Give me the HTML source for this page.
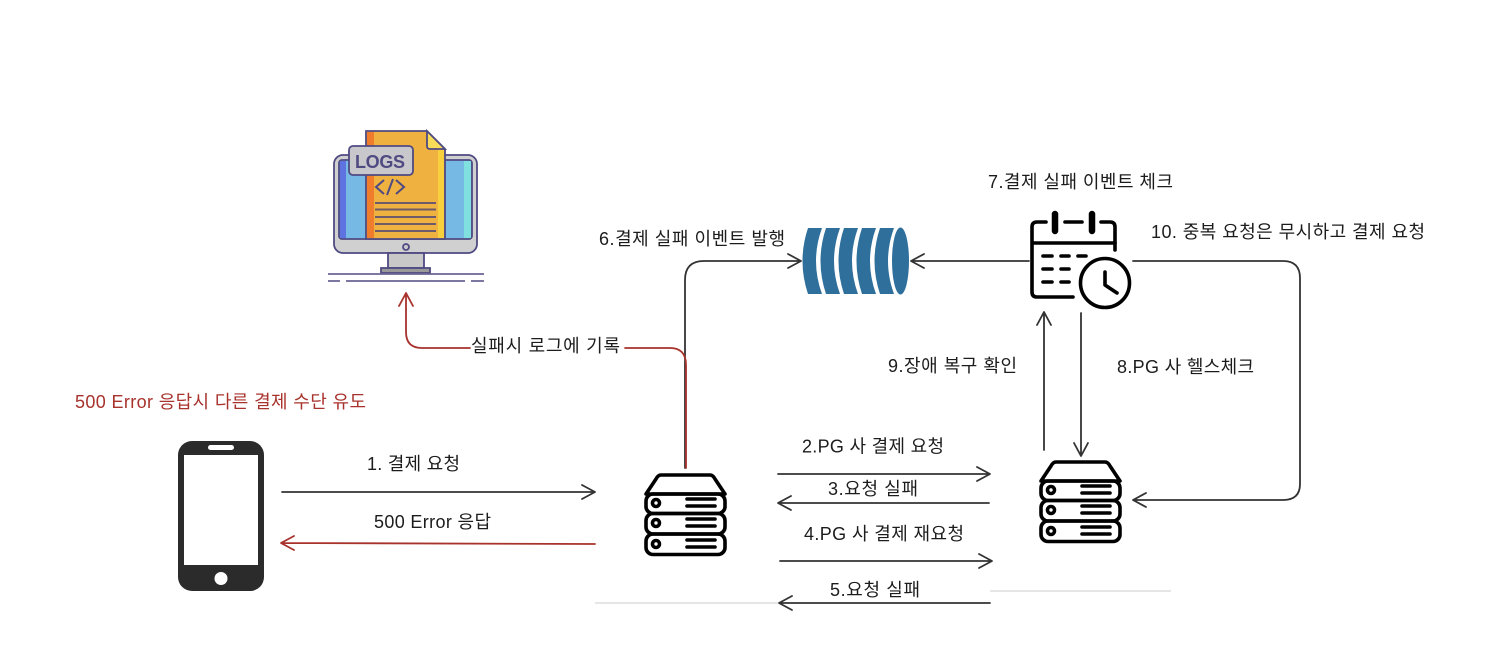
<!DOCTYPE html>
<html><head><meta charset="utf-8"><style>
html,body{margin:0;padding:0;background:#fff;width:1502px;height:668px;overflow:hidden}
svg{display:block}
text{font-family:"Liberation Sans","Noto Sans CJK KR","NanumGothic",sans-serif;font-size:18px;fill:#1c1c1c}
.l{fill:none;stroke:#333;stroke-width:1.8;stroke-linecap:round;stroke-linejoin:round}
.r{fill:none;stroke:#a8322c;stroke-width:1.8;stroke-linecap:round;stroke-linejoin:round}
.k{fill:none;stroke:#000;stroke-width:3.6;stroke-linecap:round;stroke-linejoin:round}
.p{stroke:#4f4a82;stroke-width:1.8}
</style></head><body>
<svg width="1502" height="668" viewBox="0 0 1502 668" xmlns="http://www.w3.org/2000/svg">
<defs>
<g id="srv">
<path class="k" d="M661 475H710Q713 475 715 479L725 494H646L656 479Q658 475 661 475Z"/>
<rect class="k" x="646" y="494" width="79" height="19.5" rx="7"/>
<rect class="k" x="646" y="513.5" width="79" height="20.5" rx="7"/>
<rect class="k" x="646" y="534" width="79" height="20.5" rx="7"/>
<circle class="k" cx="656" cy="503" r="3.5"/><circle class="k" cx="656" cy="523" r="3.5"/><circle class="k" cx="656" cy="544" r="3.5"/>
<path class="k" d="M687 499H715M687 506H715M687 519H715M687 526H715M687 540H715M687 547H715"/>
</g>
</defs>

<!-- logs monitor -->
<rect class="p" x="334" y="155" width="143" height="98" rx="9" fill="#d0d0d0"/>
<rect class="p" x="339" y="160" width="133" height="79" rx="3" fill="#75b9e4"/>
<rect x="340" y="161" width="6" height="77" fill="#5f73e0"/>
<rect x="464" y="161" width="7" height="77" fill="#80e0e0"/>
<path class="p" fill="#efb13f" d="M366 131H427L445 149V239H366Z"/>
<rect x="367" y="132" width="7" height="106" fill="#ef7d2c"/>
<rect x="438" y="150" width="6" height="88" fill="#f8cf3c"/>
<path class="p" fill="#f7dc5a" d="M427 131V146Q427 149 430 149H445Z"/>
<rect class="p" x="349" y="146" width="64" height="29" rx="4" fill="#c8c8cc"/>
<text x="355" y="168" style="font-size:18px;font-weight:bold;fill:#4f4a82" textLength="50">LOGS</text>
<path d="M384 180L376 187L384 194M396 180L404 187L396 194M393 179L387 195" fill="none" stroke="#4f4a82" stroke-width="2"/>
<path d="M375 203H436M375 209.500H436M375 217H436M375 224H436M375 231H436" stroke="#6d5a6a" stroke-width="2"/>
<circle class="p" cx="406" cy="247" r="3" fill="#c8c8cc"/>
<rect class="p" x="388" y="253" width="36" height="15" fill="#c8c8c8"/>
<rect class="p" x="381" y="268" width="49" height="5" fill="#999"/>
<path d="M328 274H484M328 281H340M346 281H465M471 281H484" stroke="#6a6594" stroke-width="1.8" fill="none"/>

<!-- queue -->
<g fill="#2e6f9b">
<path d="M808 228H822Q810 261 822 294H808Q797 261 808 228Z"/>
<path d="M826 228H840Q828 261 840 294H826Q815 261 826 228Z"/>
<path d="M844 228H858Q846 261 858 294H844Q833 261 844 228Z"/>
<path d="M862 228H876Q864 261 876 294H862Q851 261 862 228Z"/>
<path d="M880 228H894Q882 261 894 294H880Q869 261 880 228Z"/>
<ellipse cx="900.500" cy="261" rx="8.500" ry="33.500"/>
</g>

<!-- calendar -->
<path class="k" d="M1046 222H1037Q1032 222 1032 227V292Q1032 297 1037 297H1073"/>
<path class="k" d="M1101 222H1110Q1115 222 1115 227V250"/>
<path class="k" d="M1065 222H1082M1033 243H1115"/>
<path d="M1055 214V231M1092 214V231" stroke="#000" stroke-width="6.500" stroke-linecap="round"/>
<path class="k" d="M1043 256H1052M1061 256H1069M1078 256H1086M1043 269H1052M1061 269H1069M1043 282H1052M1061 282H1069"/>
<circle class="k" cx="1105" cy="283" r="24.500"/>
<path class="k" d="M1105 272V285L1117 293"/>

<!-- phone -->
<rect x="178" y="441" width="86" height="150" rx="14" fill="#2b2b2b"/>
<rect x="184" y="455" width="74" height="110" fill="#fff"/>
<rect x="208" y="445" width="26" height="5" rx="2.500" fill="#fff"/>
<circle cx="221" cy="578.500" r="6.500" fill="#fff"/>

<!-- servers -->
<use href="#srv"/>
<use href="#srv" transform="translate(395,-13)"/>

<!-- arrows -->
<path class="l" d="M282 492H595M582 485L595 492L582 499"/>
<path class="r" d="M595 544L281 543M294 536L281 543L294 550"/>
<path class="l" d="M778 474H990M977 467L990 474L977 481"/>
<path class="l" d="M989 503H778M791 496L778 503L791 510"/>
<path class="l" d="M780 561H992M979 554L992 561L979 568"/>
<path class="l" d="M990 603H779M792 596L779 603L792 610"/>
<path class="l" d="M685 468V280Q685 261 704 261H801M788 254L801 261L788 268"/>
<path class="r" d="M686 468V365Q686 348 670 348H625M470 348H422Q406 348 406 332V293M399 306L406 293L413 306"/>
<path class="l" d="M1029 261H911M924 254L911 261L924 268"/>
<path class="l" d="M1133 261H1283Q1300 261 1300 278V484Q1300 500 1283 500H1133M1146 493L1133 500L1146 507"/>
<path class="l" d="M1081 313V456M1074 443L1081 456L1088 443"/>
<path class="l" d="M1044 450V312M1037 325L1044 312L1051 325"/>
<path d="M595 603H778M990 591H1171" stroke="#d8d8d8" stroke-width="1.200" fill="none"/>

<!-- labels -->
<text x="75" y="408" style="fill:#a8322c" textLength="291">500 Error 응답시 다른 결제 수단 유도</text>
<text x="367" y="470" textLength="93">1. 결제 요청</text>
<text x="374" y="528" textLength="117">500 Error 응답</text>
<text x="471" y="352" textLength="149">실패시 로그에 기록</text>
<text x="599" y="245" textLength="186">6.결제 실패 이벤트 발행</text>
<text x="988" y="188" textLength="185">7.결제 실패 이벤트 체크</text>
<text x="1151" y="238" textLength="274">10. 중복 요청은 무시하고 결제 요청</text>
<text x="888" y="372" textLength="129">9.장애 복구 확인</text>
<text x="1117" y="373" textLength="137">8.PG 사 헬스체크</text>
<text x="802" y="452.500" textLength="142">2.PG 사 결제 요청</text>
<text x="828" y="495" textLength="90">3.요청 실패</text>
<text x="804" y="540" textLength="160">4.PG 사 결제 재요청</text>
<text x="830" y="596" textLength="90">5.요청 실패</text>
</svg>
</body></html>
